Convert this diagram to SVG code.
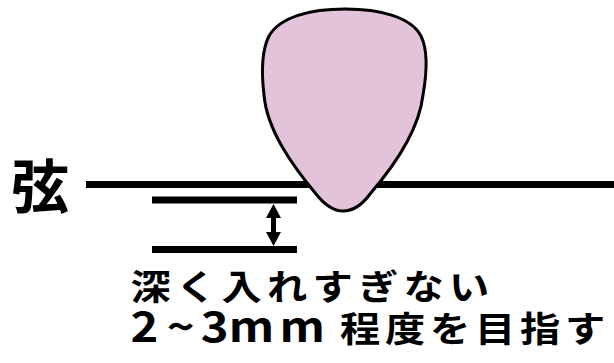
<svg xmlns="http://www.w3.org/2000/svg" width="614" height="363" viewBox="0 0 614 363">
<style>
.bar{stroke:#000;stroke-width:7;fill:none}
.lbl{font-family:"Noto Sans CJK JP","Noto Sans",sans-serif;font-weight:bold;fill:#000}
</style>
<rect width="614" height="363" fill="#fff"/>
<g id="string">
<line class="bar" x1="86" y1="184.5" x2="614" y2="184.5"/>
</g>
<g id="pick">
<path d="M343,211 C333,211 324,204 316,194 C292,165 267,130 264,95 C261,70 262,50 269,36 C280,17 310,9 345,9 C380,9 411,17 421,36 C428,50 427,72 423,95 C419,130 395,165 370,194 C362,205 353,211 343,211 Z" fill="#E3C3D9" stroke="#000" stroke-width="3"/>
</g>
<g id="guides">
<line class="bar" x1="152" y1="200" x2="297" y2="200"/>
<line class="bar" x1="152" y1="249.5" x2="297" y2="249.5"/>
</g>
<g id="connectors">
<path d="M273.5,204 L281,218 L276,218 L276,232 L281,232 L273.5,246 L266,232 L271,232 L271,218 L266,218 Z" fill="#000"/>
</g>
<g id="label-string">
<text class="lbl" x="11" y="208" font-size="58">弦</text>
</g>
<g id="caption">
<text class="lbl" transform="matrix(1.15 0 0 1 0 0)" x="113.5 153 192.6 232.2 271.7 311.3 350.9 390.4" y="300" font-size="35">深く入れすぎない</text>
<text class="lbl" transform="matrix(1.15 0 0 1 0 0)" y="342" font-size="35"><tspan x="113.5 145 174.5 199 243" font-size="41" font-weight="600">2~3mm</tspan><tspan x="295.7 334.8 373.9 413 452.2 491.3">程度を目指す</tspan></text>
</g>
</svg>
